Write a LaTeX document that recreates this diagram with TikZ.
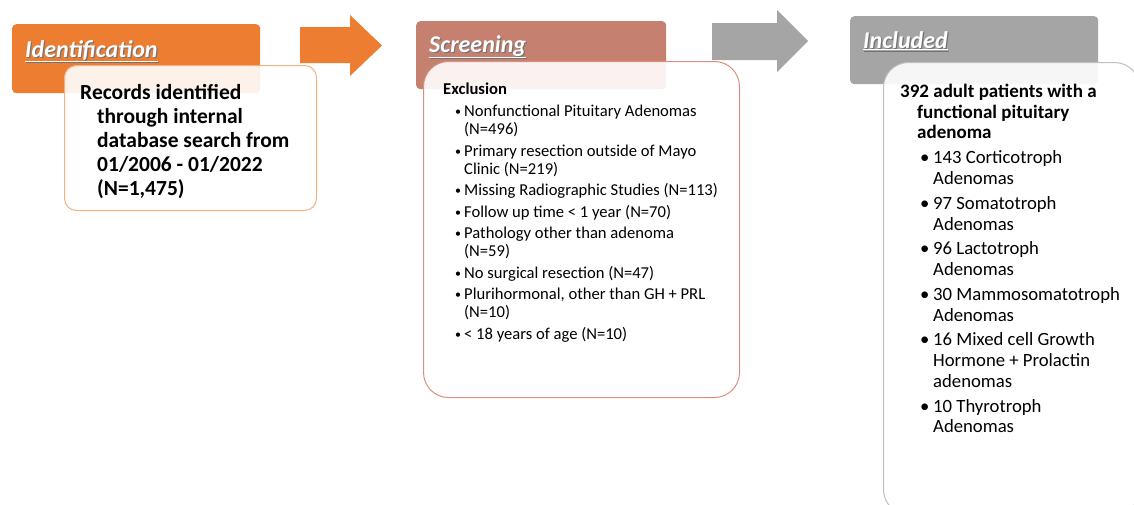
\documentclass[tikz,border=0pt]{standalone}
\usepackage{fontspec}
\setmainfont{Carlito}

\definecolor{idorange}{HTML}{ED7D31}
\definecolor{idborder}{HTML}{F4B183}
\definecolor{scrbrown}{HTML}{C5806F}
\definecolor{scrborder}{HTML}{D9907F}
\definecolor{incgray}{HTML}{A5A5A5}
\definecolor{incborder}{HTML}{BFBFBF}

\newcommand{\hdrtxt}[1]{\makebox[0pt][l]{\hspace{1.2pt}\raisebox{-1.2pt}{\color{black!55}\underline{#1}}}\underline{#1}}
\newcommand{\exitem}[1]{\makebox[9pt][l]{\raisebox{1pt}{\fontsize{12}{12}\selectfont\textbullet}}#1}
\newcommand{\initem}[1]{\makebox[13pt][l]{\textbullet}#1}

\begin{document}
\begin{tikzpicture}[x=1pt,y=-1pt,
    hdrbox/.style={rounded corners=4pt,inner sep=0,anchor=north west},
    card/.style={fill=white,fill opacity=0.9,line width=1pt,inner sep=0,anchor=north west},
    hdrlbl/.style={anchor=base west,inner sep=0,text=white,font=\fontsize{24}{28}\selectfont\bfseries\itshape},
    rectxt/.style={anchor=base west,inner sep=0,font=\fontsize{21.5}{24}\selectfont\bfseries},
    extxt/.style={anchor=base west,inner sep=0,font=\fontsize{16.6}{18}\selectfont},
    intxt/.style={anchor=base west,inner sep=0,font=\fontsize{18.7}{21}\selectfont}]
    \useasboundingbox (0,0) rectangle (1134,504);
    \clip (0,0) rectangle (1134,504);
    % header boxes
    \node[hdrbox,fill=idorange,minimum width=248,minimum height=69] (idhdr) at (12,24) {};
    \node[hdrbox,fill=scrbrown,minimum width=250,minimum height=68] (scrhdr) at (416,21) {};
    \node[hdrbox,fill=incgray,minimum width=248,minimum height=68] (inchdr) at (850,16) {};%
    \node[hdrlbl] (idlbl) at (25,57) {\hdrtxt{Identification}};
    \node[hdrlbl] (scrlbl) at (429,52) {\hdrtxt{Screening}};
    \node[hdrlbl] (inclbl) at (863,48) {\hdrtxt{Included}};%
    % block arrows
    \fill[idorange] (300,27) -- (350,27) -- (350,15) -- (382,45.5) -- (350,76) -- (350,63) -- (300,63) -- cycle;
    \fill[incgray] (712,23) -- (777,23) -- (777,10) -- (808,41) -- (777,72) -- (777,60) -- (712,60) -- cycle;%
    % cards
    \node[card,draw=idborder,rounded corners=12pt,minimum width=252,minimum height=145] (idcard) at (64,65) {};
    \node[card,draw=scrborder,rounded corners=25pt,minimum width=316,minimum height=336] (scrcard) at (423,61) {};
    \node[card,draw=incborder,rounded corners=25pt,minimum width=256,minimum height=452] (inccard) at (883,62) {};%
    % identification text
    \node[rectxt] (rec1) at (80,99) {Records identified};
    \node[rectxt] (rec2) at (97,123) {through internal};
    \node[rectxt] (rec3) at (97,147) {database search from};
    \node[rectxt] (rec4) at (97,171) {01/2006 - 01/2022};
    \node[rectxt] (rec5) at (97,195) {(N=1,475)};%
    % screening text
    \node[extxt,font=\fontsize{16.6}{18}\selectfont\bfseries] (excl) at (443,94) {Exclusion};
    \node[extxt] (ex1) at (455,116) {\exitem{Nonfunctional Pituitary Adenomas}};
    \node[extxt] (ex2) at (464,134) {(N=496)};
    \node[extxt] (ex3) at (455,156) {\exitem{Primary resection outside of Mayo}};
    \node[extxt] (ex4) at (464,174) {Clinic (N=219)};
    \node[extxt] (ex5) at (455,195) {\exitem{Missing Radiographic Studies (N=113)}};
    \node[extxt] (ex6) at (455,217) {\exitem{Follow up time < 1 year (N=70)}};
    \node[extxt] (ex7) at (455,238) {\exitem{Pathology other than adenoma}};
    \node[extxt] (ex8) at (464,256) {(N=59)};
    \node[extxt] (ex9) at (455,278) {\exitem{No surgical resection (N=47)}};
    \node[extxt] (ex10) at (455,299) {\exitem{Plurihormonal, other than GH + PRL}};
    \node[extxt] (ex11) at (464,317) {(N=10)};
    \node[extxt] (ex12) at (455,339) {\exitem{< 18 years of age (N=10)}};%
    % included text
    \node[intxt,font=\fontsize{19}{21}\selectfont\bfseries] (inc1) at (900,97) {392 adult patients with a};
    \node[intxt,font=\fontsize{19}{21}\selectfont\bfseries] (inc2) at (917,118) {functional pituitary};
    \node[intxt,font=\fontsize{19}{21}\selectfont\bfseries] (inc3) at (917,138) {adenoma};
    \node[intxt] (inc4) at (920,163) {\initem{143 Corticotroph}};
    \node[intxt] (inc5) at (933,184) {Adenomas};
    \node[intxt] (inc6) at (920,209) {\initem{97 Somatotroph}};
    \node[intxt] (inc7) at (933,230) {Adenomas};
    \node[intxt] (inc8) at (920,254) {\initem{96 Lactotroph}};
    \node[intxt] (inc9) at (933,275) {Adenomas};
    \node[intxt] (inc10) at (920,300) {\initem{30 Mammosomatotroph}};
    \node[intxt] (inc11) at (933,321) {Adenomas};
    \node[intxt] (inc12) at (920,345) {\initem{16 Mixed cell Growth}};
    \node[intxt] (inc13) at (933,366) {Hormone + Prolactin};
    \node[intxt] (inc14) at (933,387) {adenomas};
    \node[intxt] (inc15) at (920,412) {\initem{10 Thyrotroph}};
    \node[intxt] (inc16) at (933,432) {Adenomas};%
\end{tikzpicture}
\end{document}
